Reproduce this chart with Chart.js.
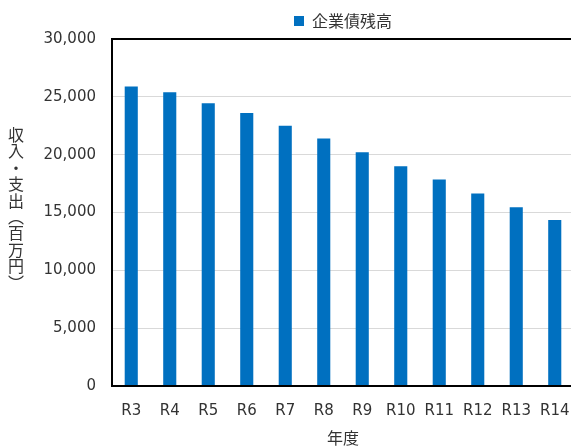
<!DOCTYPE html>
<html lang="ja">
<head>
<meta charset="utf-8">
<script src="https://cdn.jsdelivr.net/npm/chart.js@4.4.1/dist/chart.umd.min.js"></script>
<style>
  html, body { margin: 0; padding: 0; background: #fff; overflow: hidden; }
  #wrap { position: relative; width: 571px; height: 448px; overflow: hidden; }
  #debtChart { display: block; }
  #yTitle {
    position: absolute; left: 7px; top: 127px;
    writing-mode: vertical-rl; text-orientation: mixed;
    font-family: 'Noto Sans CJK JP', sans-serif; font-size: 16px;
    letter-spacing: 0.4px; color: #333; line-height: 18px;
  }
</style>
</head>
<body>
<div id="wrap">
  <!-- plot area runs a little past the visible edge, as in the original -->
  <canvas id="debtChart" width="574" height="448"></canvas>
  <div id="yTitle">収入・支出（百万円）</div>
</div>
<script>
const years = ['R3', 'R4', 'R5', 'R6', 'R7', 'R8', 'R9', 'R10', 'R11', 'R12', 'R13', 'R14'];
const debtBalance = [25900, 25400, 24450, 23600, 22500, 21400, 20200, 19000, 17850, 16650, 15450, 14350];
const seriesName = '企業債残高';
const xTitle = '年度';

Chart.defaults.font.family = "'DejaVu Sans', 'Noto Sans CJK JP', sans-serif";
Chart.defaults.color = '#333';

// plot frame: top, left and bottom edges
const plotFrame = {
  id: 'plotFrame',
  afterDatasetsDraw(chart) {
    const { ctx, chartArea: a } = chart;
    ctx.save();
    ctx.strokeStyle = '#000';
    ctx.lineWidth = 2;
    ctx.beginPath();
    ctx.moveTo(a.right + 2, a.top);
    ctx.lineTo(a.left, a.top);
    ctx.lineTo(a.left, a.bottom);
    ctx.lineTo(a.right + 2, a.bottom);
    ctx.stroke();
    ctx.restore();
  }
};

const ctx = document.getElementById('debtChart');
new Chart(ctx, {
  type: 'bar',
  data: {
    labels: years,
    datasets: [{
      label: seriesName,
      data: debtBalance,
      backgroundColor: '#0070C0',
      categoryPercentage: 1,
      barPercentage: 0.34
    }]
  },
  plugins: [plotFrame],
  options: {
    responsive: false,
    animation: false,
    layout: { padding: { top: 7, left: 0, right: 0, bottom: 0 } },
    plugins: {
      legend: {
        position: 'top',
        fullSize: false,
        labels: {
          boxWidth: 10,
          boxHeight: 10,
          padding: 6,
          font: { size: 16, family: "'Noto Sans CJK JP', sans-serif" },
          color: '#333'
        }
      },
      tooltip: { enabled: false }
    },
    scales: {
      x: {
        grid: { display: false, drawTicks: false },
        border: { display: false },
        ticks: { padding: 16, font: { size: 15 }, maxRotation: 0 },
        title: {
          display: true,
          text: xTitle,
          font: { size: 16, family: "'Noto Sans CJK JP', sans-serif" },
          padding: { top: 4, bottom: 0 }
        },
        afterFit(scale) {
          scale.height = 62;
          scale.paddingLeft = 0;
          scale.paddingRight = 0;
        }
      },
      y: {
        min: 0,
        max: 30000,
        grid: { color: '#d9d9d9', drawTicks: false },
        border: { display: false },
        ticks: {
          stepSize: 5000,
          padding: 16,
          font: { size: 15 },
          callback: v => v.toLocaleString('en-US')
        },
        afterFit(scale) { scale.width = 112; }
      }
    }
  }
});
</script>
</body>
</html>
